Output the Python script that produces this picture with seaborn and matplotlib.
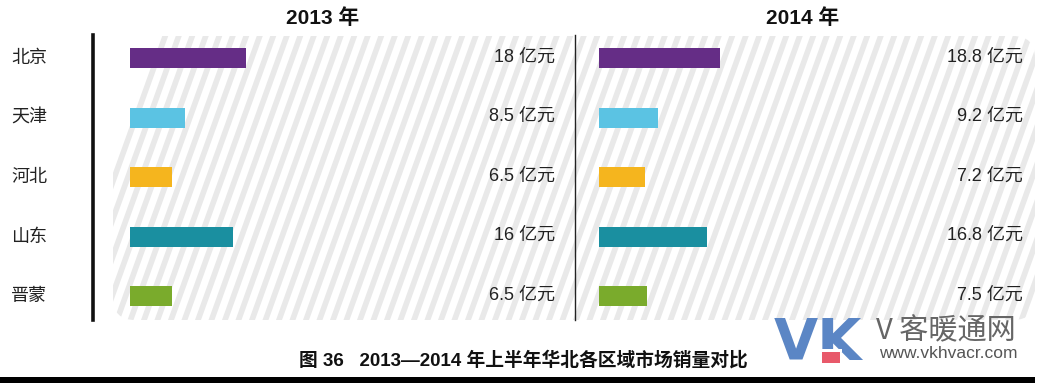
import numpy as np
import pandas as pd
import matplotlib
matplotlib.use("Agg")
import matplotlib.pyplot as plt
import seaborn as sns
from matplotlib.patches import FancyBboxPatch, Polygon

regions = ["北京", "天津", "河北", "山东", "晋蒙"]
values_2013 = [18, 8.5, 6.5, 16, 6.5]
values_2014 = [18.8, 9.2, 7.2, 16.8, 7.5]
labels_2013 = ["18 亿元", "8.5 亿元", "6.5 亿元", "16 亿元", "6.5 亿元"]
labels_2014 = ["18.8 亿元", "9.2 亿元", "7.2 亿元", "16.8 亿元", "7.5 亿元"]
years = ["2013 年", "2014 年"]
colors = ["#652d86", "#5bc3e3", "#f5b51e", "#1a8fa0", "#7aab2c"]
caption = "图 36   2013—2014 年上半年华北各区域市场销量对比"

sns.set_theme(style="white")
plt.rcParams["font.family"] = ["Noto Sans CJK SC", "DejaVu Sans"]
LAT = ["Liberation Sans", "Noto Sans CJK SC", "DejaVu Sans"]

W, H = 1041, 385
fig = plt.figure(figsize=(W / 100, H / 100), dpi=100)

def fx(px):
    return px / W

def fy(py):
    return 1 - py / H

# background decoration axes in pixel coordinates
bg = fig.add_axes([0, 0, 1, 1])
bg.set_xlim(0, W)
bg.set_ylim(H, 0)
bg.axis("off")
box = FancyBboxPatch((113, 36), 1035 - 113, 320 - 36,
                     boxstyle="round,pad=0,rounding_size=22",
                     facecolor="white", edgecolor="none")
bg.add_patch(box)
slope = 0.36
top, bot = 36, 320
for x0 in np.arange(60, 1100, 13.5):
    poly = Polygon([(x0, bot), (x0 + 6, bot),
                    (x0 + 6 + slope * (bot - top), top),
                    (x0 + slope * (bot - top), top)],
                   closed=True, facecolor="#e9e9e9", edgecolor="none")
    bg.add_patch(poly)
    poly.set_clip_path(box)

px_per_unit = 6.45
row_px = 59.5
ax_top, ax_bot = 35, 320
ylim = (4 + (ax_bot - 296) / row_px, 0 - (58 - ax_top) / row_px)
bar_w = 20 / row_px

panels = [
    (93, 575, 130, values_2013, labels_2013, 555),
    (575, 1041, 599, values_2014, labels_2014, 1023),
]

for i, (left, right, zero, vals, labs, lab_x) in enumerate(panels):
    ax = fig.add_axes([fx(left), fy(ax_bot), (right - left) / W, (ax_bot - ax_top) / H])
    ax.patch.set_alpha(0)
    df = pd.DataFrame({"region": regions, "value": vals})
    sns.barplot(data=df, x="value", y="region", hue="region", palette=colors,
                legend=False, width=bar_w, orient="h", ax=ax, saturation=1,
                linewidth=0, edgecolor="none")
    ax.set_xlim((left - zero) / px_per_unit, (right - zero) / px_per_unit)
    ax.set_ylim(*ylim)
    ax.set_xlabel("")
    ax.set_ylabel("")
    ax.set_xticks([])
    for s in ["top", "right", "bottom"]:
        ax.spines[s].set_visible(False)
    if i == 0:
        ax.spines["left"].set_color("#111111")
        ax.spines["left"].set_linewidth(2.6)
        ax.tick_params(axis="y", length=0, pad=0)
        ax.set_yticks(range(len(regions)))
        ax.set_yticklabels([])
        for k, r in enumerate(regions):
            ax.text((11 - zero) / px_per_unit, k, r, ha="left", va="center",
                    fontsize=13, color="#222222", transform=ax.transData, clip_on=False)
    else:
        ax.spines["left"].set_color("#222222")
        ax.spines["left"].set_linewidth(1.0)
        ax.set_yticks([])
    for k, t in enumerate(labs):
        ax.text((lab_x - zero) / px_per_unit, k - 0.02, t, ha="right", va="center",
                fontsize=13, color="#222222", family=LAT)

fig.text(fx(323), fy(18), years[0], ha="center", va="center",
         fontsize=15, fontweight="bold", color="#111111", family=LAT)
fig.text(fx(803), fy(18), years[1], ha="center", va="center",
         fontsize=15, fontweight="bold", color="#111111", family=LAT)

fig.text(fx(523), fy(360), caption, ha="center", va="center",
         fontsize=13.5, fontweight="bold", color="#111111", family=LAT)

# watermark
bg.text(774, 344, "VK", ha="left", va="center", fontsize=41,
        fontweight="bold", color="#5b86c5", family=["DejaVu Sans"], zorder=3)
bg.add_patch(plt.Rectangle((818, 349), 24, 3, facecolor="white", edgecolor="none", zorder=4))
bg.add_patch(plt.Rectangle((822, 352), 18, 11, facecolor="#e8596a", edgecolor="none", zorder=4))
fig.text(fx(876), fy(331), "V 客暖通网", ha="left", va="center", fontsize=21,
         color="#666666")
fig.text(fx(879), fy(354), "www.vkhvacr.com", ha="left", va="center", fontsize=12.5,
         color="#555555", family=LAT)

bg.add_patch(plt.Rectangle((0, 377), 1035, 6, facecolor="black", edgecolor="none", zorder=5))

fig.savefig("out.png", dpi=100)
